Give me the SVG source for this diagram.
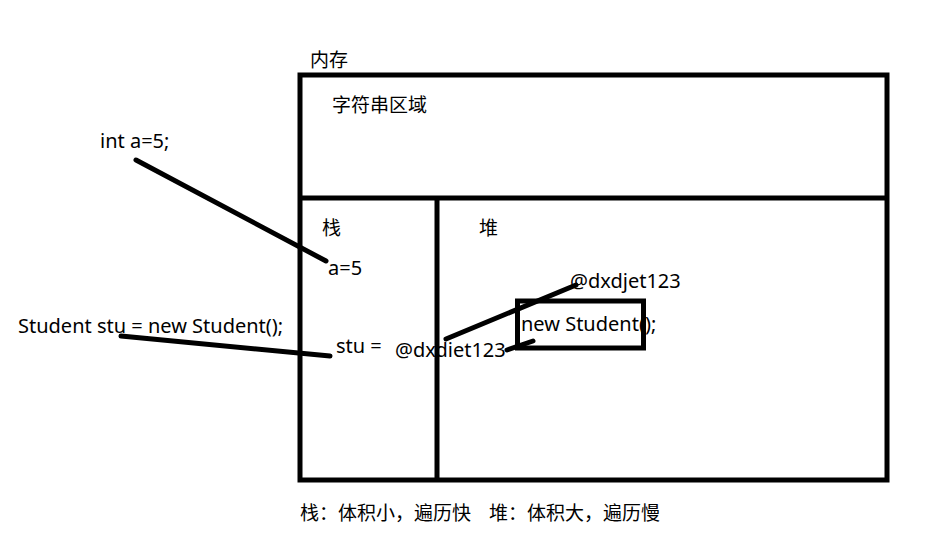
<svg xmlns="http://www.w3.org/2000/svg" width="943" height="534" viewBox="0 0 943 534">
<style>
text{font-family:"Noto Sans CJK SC","Noto Sans",sans-serif;font-size:19px;fill:#000}
text.lat{font-family:"Noto Sans","Noto Sans CJK SC",sans-serif;font-size:20px}
.box{fill:none;stroke:#000;stroke-width:5}
.ln{stroke:#000;stroke-width:5;stroke-linecap:round;fill:none}
</style>
<rect width="943" height="534" fill="#fff"/>
<g id="memory">
<rect class="box" x="300" y="75" width="587" height="405"/>
<line class="box" x1="300" y1="198" x2="887" y2="198"/>
<line class="box" x1="437" y1="198" x2="437" y2="480"/>
<text x="310" y="67">内存</text>
</g>
<g id="string-area"><text x="332" y="112">字符串区域</text></g>
<g id="stack">
<text x="322" y="235">栈</text>
<text class="lat" x="328" y="275">a=5</text>
<text class="lat" x="336" y="353">stu =</text>
<text class="lat" x="395" y="357">@dxdiet123</text>
</g>
<g id="heap">
<text x="479" y="235">堆</text>
<text class="lat" x="570" y="288">@dxdjet123</text>
<text class="lat" x="521" y="331">new Student();</text>
<rect class="box" x="517.5" y="301" width="126" height="47"/>
</g>
<g id="code">
<text class="lat" x="100" y="148">int a=5;</text>
<text class="lat" x="18" y="333">Student stu = new Student();</text>
</g>
<g id="connectors">
<line class="ln" x1="136" y1="160" x2="326" y2="261"/>
<line class="ln" x1="121" y1="336" x2="330" y2="356"/>
<line class="ln" x1="446" y1="339" x2="576" y2="285"/>
<line class="ln" x1="507" y1="350" x2="533" y2="341"/>
</g>
<g id="note"><text x="300" y="520">栈：体积小，遍历快<tspan x="489">堆：体积大，遍历慢</tspan></text></g>
</svg>
